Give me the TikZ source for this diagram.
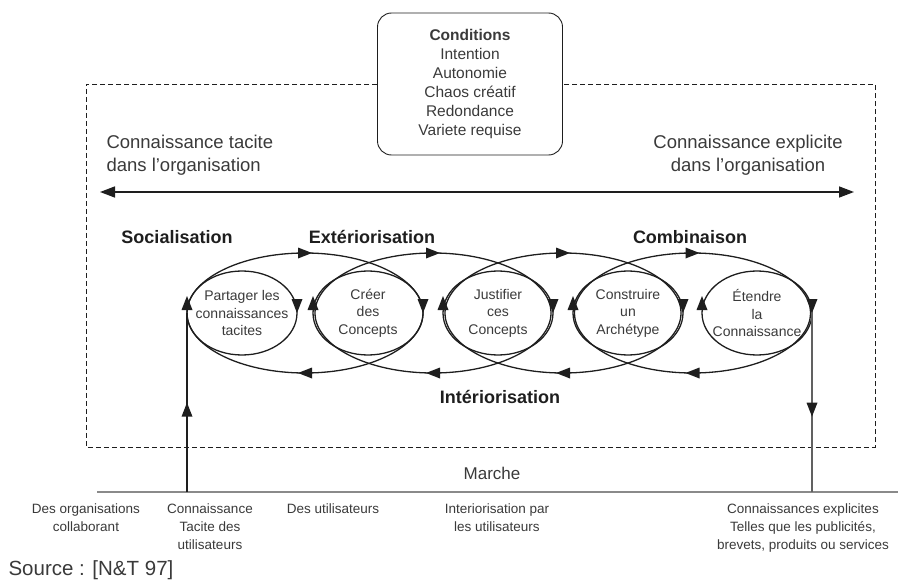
\documentclass[tikz,border=0pt]{standalone}
\usepackage{fontspec}
\setmainfont{Liberation Sans}
\usepackage{tikz}
\usetikzlibrary{arrows.meta,calc}
\usepackage{xcolor}
\definecolor{inkcolor}{HTML}{1E1E1E}
\definecolor{textcolor}{HTML}{3A3A3A}
\definecolor{linecolor}{HTML}{8A8A8A}

\tikzset{
  tipdown/.pic={\fill (0,7) -- (-5.5,-7) -- (5.5,-7) -- cycle;},
  tipup/.pic={\fill (0,-7) -- (-5.5,7) -- (5.5,7) -- cycle;},
  tipright/.pic={\fill (7,0) -- (-7,-5.5) -- (-7,5.5) -- cycle;},
  tipleft/.pic={\fill (-7,0) -- (7,-5.5) -- (7,5.5) -- cycle;},
  cyc/.style={line width=1.3pt, draw=inkcolor},
  spot/.style={align=center, text=textcolor, font=\fontsize{14}{17.5}\selectfont},
  stage/.style={text=inkcolor, font=\fontsize{18}{21}\selectfont\bfseries},
  foot/.style={anchor=north, align=center, text=textcolor, font=\fontsize{13.5}{18}\selectfont},
}

\begin{document}
\begin{tikzpicture}[x=1pt, y=-1pt]
    \useasboundingbox (0,0) rectangle (898,586);

    \node[draw=inkcolor, line width=0.9pt, rounded corners=14pt, minimum width=185pt, minimum height=142pt,
          align=center, text=textcolor, font=\fontsize{15.5}{19}\selectfont] (cond) at (470,84)
        {{\bfseries Conditions}\\Intention\\Autonomie\\Chaos créatif\\Redondance\\Variete requise};

    \coordinate (fTL) at (86,84);
    \coordinate (fTR) at (875,84);
    \coordinate (fBR) at (875,447);
    \coordinate (fBL) at (86,447);
    \draw[inkcolor, line width=0.9pt, dash pattern=on 5pt off 3pt]
        (cond.west) -- (fTL) -- (fBL) -- (fBR) -- (fTR) -- (cond.east);

    \node[anchor=west, align=left, text=textcolor, font=\fontsize{18.5}{23}\selectfont] (tacit) at (103,155)
        {Connaissance tacite\\dans l’organisation};
    \node[align=center, text=textcolor, font=\fontsize{18.5}{23}\selectfont] (explic) at (748,155)
        {Connaissance explicite\\dans l’organisation};

    \coordinate (gL) at (100,192);
    \coordinate (gR) at (854,192);
    \draw[{Triangle[length=15pt,width=11pt]}-{Triangle[length=15pt,width=11pt]}, inkcolor, line width=1.6pt] (gL) -- (gR);

    \node[stage] (soc) at (177,237) {Socialisation};
    \node[stage] (ext) at (372,237) {Extériorisation};
    \node[stage] (comb) at (690,237) {Combinaison};
    \node[stage] (inter) at (500,397) {Intériorisation};

    \node[spot] (e1) at (242,313) {Partager les\\connaissances\\tacites};
    \node[spot] (e2) at (368,313) {Créer\\des\\Concepts};
    \node[spot] (e3) at (498,313) {Justifier\\ces\\Concepts};
    \node[spot] (e4) at (628,313) {Construire\\un\\Archétype};
    \node[spot] (e5) at (757,313) {Étendre\\la\\Connaissance};

    \foreach \e in {e1,e2,e3,e4,e5} {
        \draw[cyc] (\e.center) ellipse [x radius=55, y radius=42];
        \pic[inkcolor] at ($(\e.center)+(55,-7)$) {tipdown};
        \pic[inkcolor] at ($(\e.center)+(-55,-10)$) {tipup};
    }
    \path (e1.center) ++(-55,0) coordinate (e1w);
    \path (e5.center) ++(55,0) coordinate (e5e);

    \coordinate (l1) at (305,313);
    \coordinate (l2) at (433,313);
    \coordinate (l3) at (563,313);
    \coordinate (l4) at (692.5,313);
    \foreach \l in {l1,l2,l3,l4} {
        \draw[cyc] (\l) ellipse [x radius=118, y radius=60];
        \pic[inkcolor] at ($(\l)+(0,-60)$) {tipright};
        \pic[inkcolor] at ($(\l)+(0,60)$) {tipleft};
    }

    \coordinate (mk1) at (97,492);
    \coordinate (mk2) at (898,492);
    \coordinate (mL) at (187,492);
    \coordinate (mR) at (812,492);
    \draw[linecolor, line width=1.4pt] (mk1) -- (mk2);
    \node[text=textcolor, font=\fontsize{17}{20}\selectfont] (market) at (492,473) {Marche};

    \draw[inkcolor, line width=1.3pt] (mL) -- (e1w);
    \pic[inkcolor] at ($(mL)!0.46!(e1w)$) {tipup};
    \draw[linecolor!70!black, line width=1.3pt] (e5e) -- (mR);
    \pic[inkcolor] at ($(e5e)!0.54!(mR)$) {tipdown};

    \node[foot] (b1) at (86,500) {Des organisations\\collaborant};
    \node[foot] (b2) at (210,500) {Connaissance\\Tacite des\\utilisateurs};
    \node[foot] (b3) at (333,500) {Des utilisateurs};
    \node[foot] (b4) at (497,500) {Interiorisation par\\les utilisateurs};
    \node[foot] (b5) at (803,500) {Connaissances explicites\\Telles que les publicités,\\brevets, produits ou services};

    \node[anchor=west, text=textcolor, font=\fontsize{20.5}{24}\selectfont] (src) at (5,570) {Source : [N\&T 97]};
\end{tikzpicture}
\end{document}
